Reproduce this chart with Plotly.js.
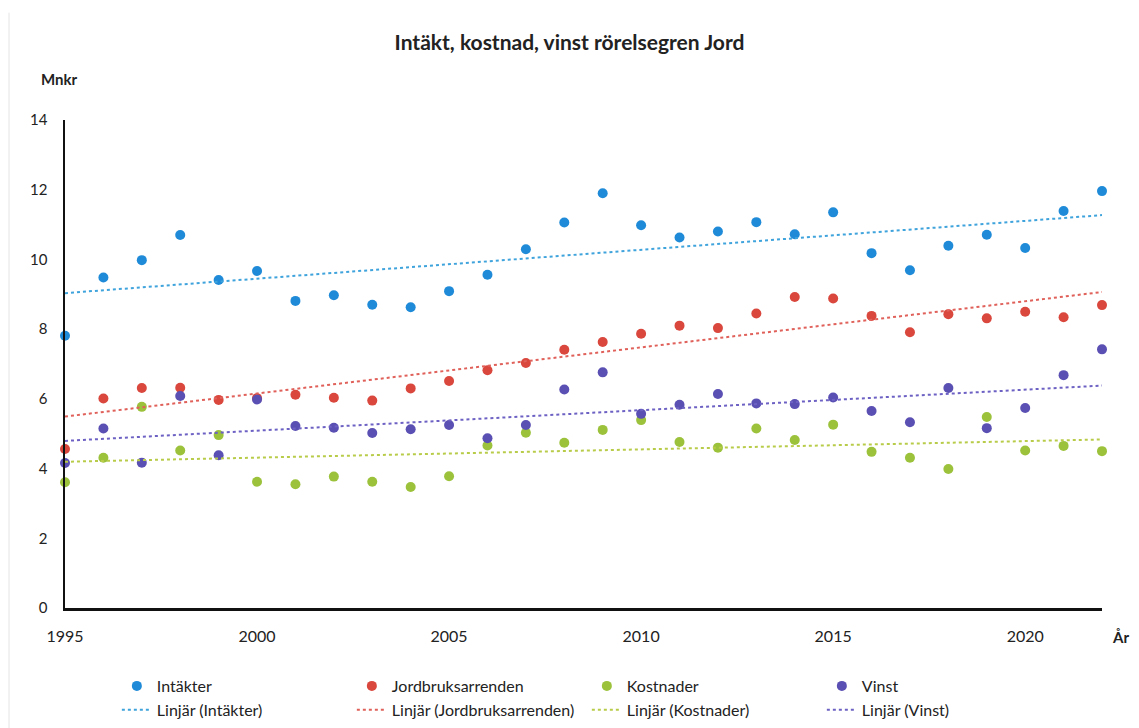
<!DOCTYPE html>
<html>
<head>
<meta charset="utf-8">
<script src="https://cdn.plot.ly/plotly-3.0.1.min.js"></script>
<style>html,body{margin:0;padding:0;background:#fff;}#chart{width:1139px;height:728px;}</style>
</head>
<body>
<div id="chart"></div>
<script>
const years = [1995,1996,1997,1998,1999,2000,2001,2002,2003,2004,2005,2006,2007,2008,2009,2010,2011,2012,2013,2014,2015,2016,2017,2018,2019,2020,2021,2022];
const intakter = [7.81,9.48,9.98,10.70,9.41,9.67,8.81,8.97,8.70,8.63,9.09,9.56,10.29,11.06,11.90,10.98,10.63,10.80,11.07,10.72,11.35,10.18,9.69,10.39,10.71,10.33,11.39,11.96];
const jordbruksarrenden = [4.56,6.01,6.31,6.32,5.97,6.02,6.12,6.03,5.95,6.30,6.51,6.82,7.03,7.41,7.63,7.87,8.10,8.03,8.45,8.92,8.88,8.38,7.91,8.43,8.31,8.50,8.34,8.69];
const kostnader = [3.61,4.31,5.77,4.52,4.96,3.62,3.55,3.77,3.62,3.47,3.78,4.66,5.03,4.74,5.11,5.39,4.76,4.60,5.15,4.82,5.26,4.48,4.31,3.99,5.48,4.52,4.65,4.50];
const vinst = [4.16,5.15,4.17,6.08,4.38,5.98,5.22,5.17,5.02,5.13,5.25,4.87,5.25,6.27,6.76,5.57,5.83,6.14,5.87,5.85,6.04,5.65,5.33,6.31,5.16,5.74,6.68,7.42];
const seriesNames = ["Intäkter","Jordbruksarrenden","Kostnader","Vinst"];
const xTickVals = [1995,2000,2005,2010,2015,2020];

const markerColors = ["#1f8bd8","#d9473d","#9cc23c","#5a4fb3"];
const trendColors = ["#3fa3dc","#e0605a","#b9cc4a","#6d62c4"];
const FONT = "Lato, 'Liberation Sans', sans-serif";

// least-squares linear trend (as Excel "Linjär" trendline)
function linfit(x, y) {
  const n = x.length;
  let sx=0, sy=0, sxx=0, sxy=0;
  for (let i=0;i<n;i++){ sx+=x[i]; sy+=y[i]; sxx+=x[i]*x[i]; sxy+=x[i]*y[i]; }
  const b = (n*sxy - sx*sy)/(n*sxx - sx*sx);
  const a = (sy - b*sx)/n;
  return x.map(v => a + b*v);
}

const all = [intakter, jordbruksarrenden, kostnader, vinst];
const traces = [];
all.forEach((ys, i) => {
  traces.push({
    type: "scatter", mode: "markers", x: years, y: ys, name: seriesNames[i],
    marker: {color: markerColors[i], size: 10},
    cliponaxis: false, showlegend: true
  });
});
all.forEach((ys, i) => {
  traces.push({
    type: "scatter", mode: "lines", x: years, y: linfit(years, ys),
    name: "Linjär (" + seriesNames[i] + ")",
    line: {color: trendColors[i], width: 2, dash: "dot"},
    cliponaxis: false, hoverinfo: "skip"
  });
});

const layout = {
  width: 1139, height: 728,
  paper_bgcolor: "#ffffff", plot_bgcolor: "#ffffff",
  font: {family: FONT, color: "#222", size: 15},
  margin: {l: 65, r: 37, t: 120, b: 120, autoexpand: false},
  title: {text: "<b>Intäkt, kostnad, vinst rörelsegren Jord</b>", x: 0.5, xanchor: "center", y: 0.942, yanchor: "middle",
          font: {family: FONT, size: 21, color: "#222"}},
  xaxis: {
    range: [1995, 2022], tickvals: xTickVals, ticktext: xTickVals.map(String),
    showgrid: false, zeroline: false, showline: true, linecolor: "#111", linewidth: 2.5,
    ticks: "", ticklabelstandoff: 12, tickfont: {size: 16, color: "#222"}, automargin: false
  },
  yaxis: {
    range: [0, 14], dtick: 2, showgrid: false, zeroline: false,
    showline: true, linecolor: "#111", linewidth: 2.5,
    ticks: "", ticklabelstandoff: 12, tickfont: {size: 15, color: "#222"}, automargin: false
  },
  showlegend: true,
  legend: {
    orientation: "h", x: 0.05, xanchor: "left", y: -0.125, yanchor: "top",
    entrywidth: 190, entrywidthmode: "pixels",
    font: {size: 16, color: "#222"}, traceorder: "normal", tracegroupgap: 0,
    itemwidth: 30
  },
  annotations: [
    {text: "<b>Mnkr</b>", xref: "paper", yref: "paper", x: -0.025, y: 1.0, xanchor: "left", yanchor: "bottom",
     yshift: 30, showarrow: false, font: {size: 15, color: "#222"}},
    {text: "<b>År</b>", xref: "paper", yref: "paper", x: 1.0, y: 0, xanchor: "left", yanchor: "top",
     xshift: 8, yshift: -18, showarrow: false, font: {size: 15, color: "#222"}}
  ],
  shapes: [
    {type: "line", xref: "paper", yref: "paper", x0: -0.054, x1: -0.054, y0: -0.25, y1: 1.22, line: {color: "#e4e4e4", width: 1}}
  ]
};

Plotly.newPlot("chart", traces, layout, {displayModeBar: false, staticPlot: true});
</script>
</body>
</html>
